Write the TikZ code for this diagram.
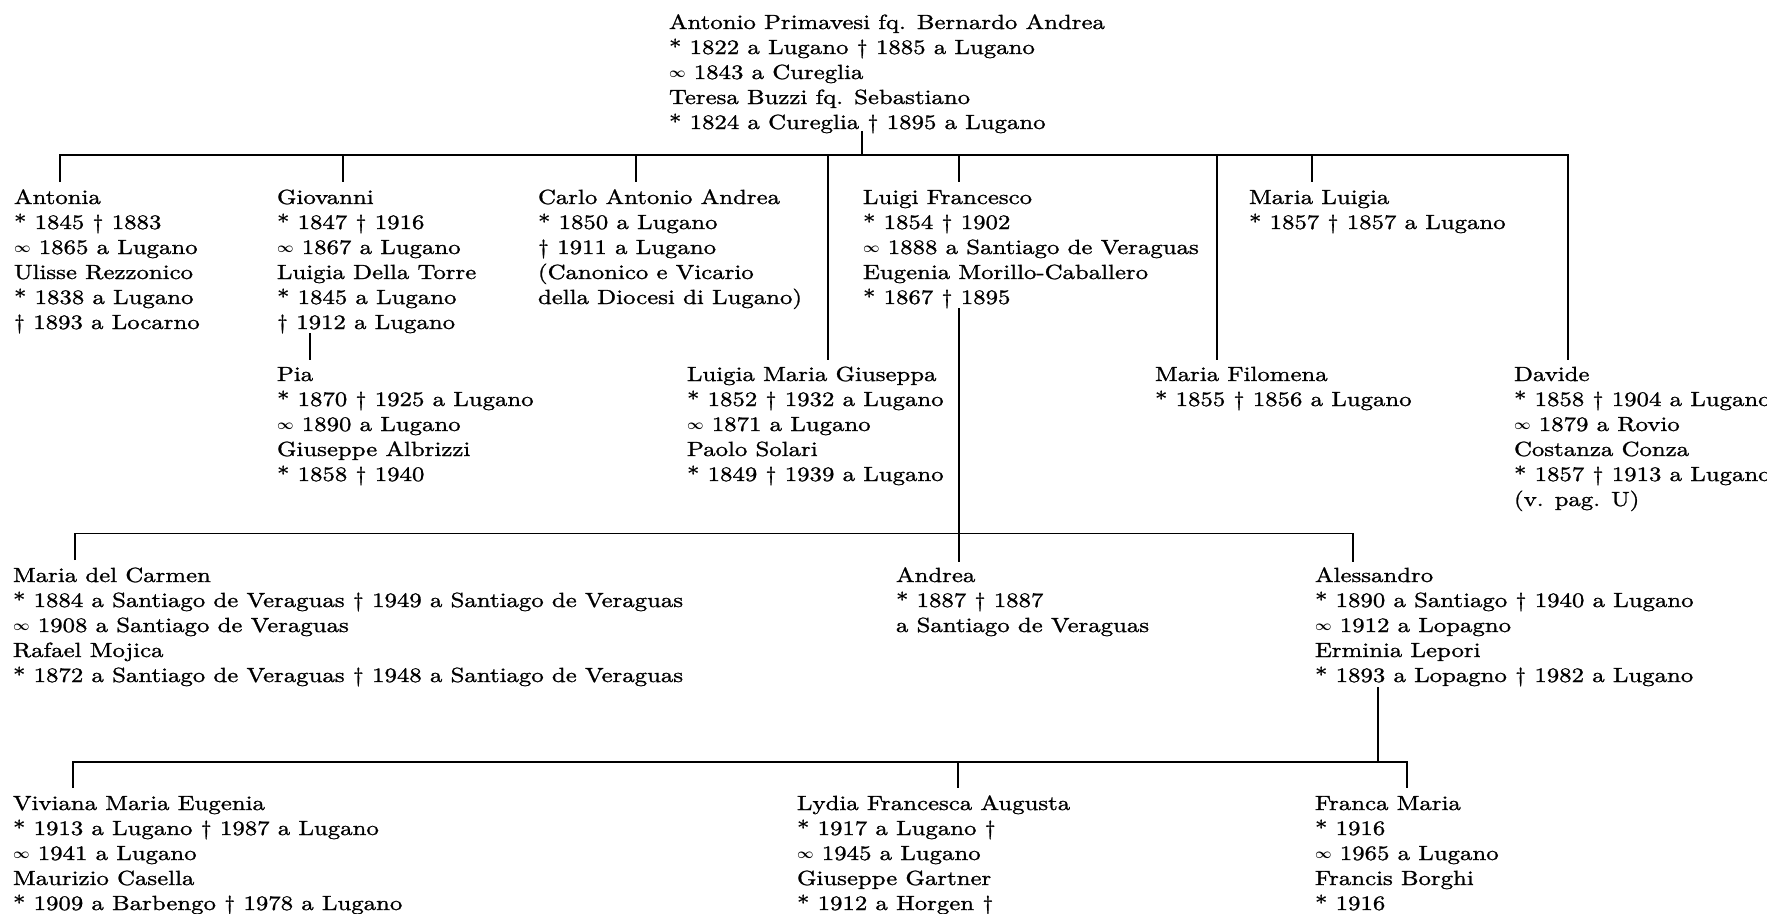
\documentclass[tikz,border=0pt]{standalone}
\usepackage{fontspec}
\setmainfont{lmroman10-regular.otf}[FakeStretch=1.21,FakeBold=1.2]
\newcommand\mrg{\raisebox{1.2pt}{$\scriptstyle\boldsymbol{\infty}$}}
\newcommand\ts{\rule{0pt}{17.5pt}}
\usepackage{amsmath}
\usepackage{amsbsy}

\begin{document}
\begin{tikzpicture}[x=1pt,y=-1pt,
  person/.style={anchor=north west, inner sep=0pt, outer sep=0pt, align=left,
    font=\fontsize{20.5}{25}\selectfont},
  link/.style={line width=1.8pt, line join=miter}]
\useasboundingbox (0,0) rectangle (1767,913);

% ---------- generation 0
\node[person] (root) at (669,11.5) {\ts Antonio Primavesi fq. Bernardo Andrea\\{*} 1822 a Lugano † 1885 a Lugano\\\mrg{} 1843 a Cureglia\\Teresa Buzzi fq. Sebastiano\\{*} 1824 a Cureglia † 1895 a Lugano};

% ---------- generation 1
\node[person] (antonia) at (14,186.5) {\ts Antonia\\{*} 1845 † 1883\\\mrg{} 1865 a Lugano\\Ulisse Rezzonico\\{*} 1838 a Lugano\\† 1893 a Locarno};
\node[person] (giovanni) at (277,186.5) {\ts Giovanni\\{*} 1847 † 1916\\\mrg{} 1867 a Lugano\\Luigia Della Torre\\{*} 1845 a Lugano\\† 1912 a Lugano};
\node[person] (carlo) at (538,186.5) {\ts Carlo Antonio Andrea\\{*} 1850 a Lugano\\† 1911 a Lugano\\(Canonico e Vicario\\della Diocesi di Lugano)};
\node[person] (luigi) at (863,186.5) {\ts Luigi Francesco\\{*} 1854 † 1902\\\mrg{} 1888 a Santiago de Veraguas\\Eugenia Morillo-Caballero\\{*} 1867 † 1895};
\node[person] (marialuigia) at (1249,186.5) {\ts Maria Luigia\\{*} 1857 † 1857 a Lugano};

\node[person] (pia) at (277,363.5) {\ts Pia\\{*} 1870 † 1925 a Lugano\\\mrg{} 1890 a Lugano\\Giuseppe Albrizzi\\{*} 1858 † 1940};
\node[person] (luigia) at (687,363.5) {\ts Luigia Maria Giuseppa\\{*} 1852 † 1932 a Lugano\\\mrg{} 1871 a Lugano\\Paolo Solari\\{*} 1849 † 1939 a Lugano};
\node[person] (filomena) at (1155,363.5) {\ts Maria Filomena\\{*} 1855 † 1856 a Lugano};
\node[person] (davide) at (1514,363.5) {\ts Davide\\{*} 1858 † 1904 a Lugano\\\mrg{} 1879 a Rovio\\Costanza Conza\\{*} 1857 † 1913 a Lugano\\(v. pag. U)};

% ---------- generation 2
\node[person] (carmen) at (13,564.5) {\ts Maria del Carmen\\{*} 1884 a Santiago de Veraguas † 1949 a Santiago de Veraguas\\\mrg{} 1908 a Santiago de Veraguas\\Rafael Mojica\\{*} 1872 a Santiago de Veraguas † 1948 a Santiago de Veraguas};
\node[person] (andrea) at (896,564.5) {\ts Andrea\\{*} 1887 † 1887\\a Santiago de Veraguas};
\node[person] (alessandro) at (1315,564.5) {\ts Alessandro\\{*} 1890 a Santiago † 1940 a Lugano\\\mrg{} 1912 a Lopagno\\Erminia Lepori\\{*} 1893 a Lopagno † 1982 a Lugano};

% ---------- generation 3
\node[person] (viviana) at (13,792.5) {\ts Viviana Maria Eugenia\\{*} 1913 a Lugano † 1987 a Lugano\\\mrg{} 1941 a Lugano\\Maurizio Casella\\{*} 1909 a Barbengo † 1978 a Lugano};
\node[person] (lydia) at (797,792.5) {\ts Lydia Francesca Augusta\\{*} 1917 a Lugano †\\\mrg{} 1945 a Lugano\\Giuseppe Gartner\\{*} 1912 a Horgen †};
\node[person] (franca) at (1315,792.5) {\ts Franca Maria\\{*} 1916\\\mrg{} 1965 a Lugano\\Francis Borghi\\{*} 1916};

% ---------- junction points
\coordinate (root-out) at (862,131);
\coordinate (bar1) at (862,155);
\coordinate (antonia-in) at (60,182);
\coordinate (giovanni-in) at (343,182);
\coordinate (carlo-in) at (636,182);
\coordinate (luigi-in) at (959,182);
\coordinate (marialuigia-in) at (1312,182);
\coordinate (luigia-in) at (828,360);
\coordinate (filomena-in) at (1217,360);
\coordinate (davide-in) at (1568,360);
\coordinate (giovanni-out) at (310,333);
\coordinate (pia-in) at (310,360);
\coordinate (luigi-out) at (959,308);
\coordinate (bar2) at (959,533.5);
\coordinate (carmen-in) at (75,560);
\coordinate (andrea-in) at (959,562);
\coordinate (alessandro-in) at (1353,562);
\coordinate (alessandro-out) at (1378,687);
\coordinate (bar3) at (1378,762);
\coordinate (viviana-in) at (73,788);
\coordinate (lydia-in) at (958,788);
\coordinate (franca-in) at (1407,788);

% ---------- lines of descent
\draw[link] (root-out) -- (bar1);
\draw[link] (antonia-in) -- (antonia-in |- bar1) -- (davide-in |- bar1) -- (davide-in);
\foreach \c in {giovanni,carlo,luigi,marialuigia,luigia,filomena}
  \draw[link] (\c-in |- bar1) -- (\c-in);
\draw[link] (giovanni-out) -- (pia-in);

\draw[link] (luigi-out) -- (andrea-in);
\draw[link] (carmen-in) -- (carmen-in |- bar2) -- (alessandro-in |- bar2) -- (alessandro-in);

\draw[link] (alessandro-out) -- (bar3);
\draw[link] (viviana-in) -- (viviana-in |- bar3) -- (franca-in |- bar3) -- (franca-in);
\draw[link] (lydia-in |- bar3) -- (lydia-in);
\end{tikzpicture}
\end{document}
